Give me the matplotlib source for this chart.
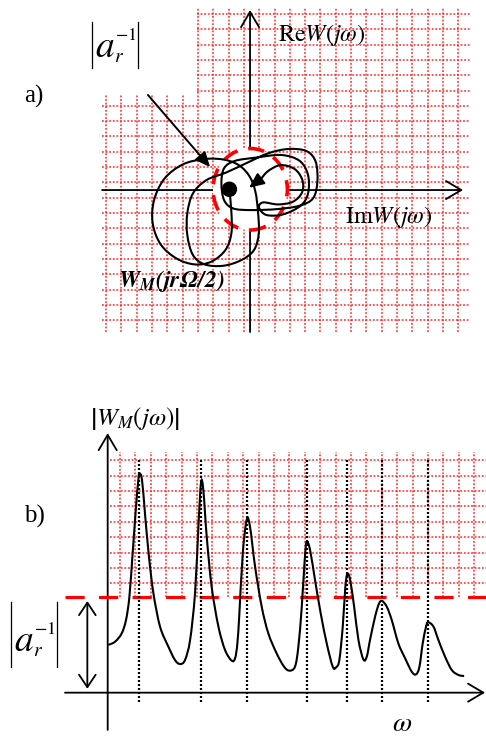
import numpy as np
import matplotlib.pyplot as plt
from matplotlib.path import Path
from matplotlib.patches import PathPatch, Ellipse, Circle
from matplotlib.lines import Line2D

plt.rcParams["mathtext.fontset"] = "stix"
plt.rcParams["font.family"] = ["Liberation Serif", "DejaVu Serif"]

# ------------------------------------------------------------------
# Data
# ------------------------------------------------------------------

# a) hodograph of W_M(jw), in grid cells; horizontal = Im, vertical = Re
NYQ_IM = [
    -1.35, -1.22, -1.22, -1.61, -2.53, -3.62, -4.81, -5.84, -6.36, -6.27,
    -5.58, -4.38, -2.96, -1.66, -0.68, -0.02, 0.35, 0.52, 0.57, 0.26,
    -0.57, -1.76, -2.96, -3.73, -4.10, -4.10, -3.73, -2.85, -1.55, -0.13,
    1.18, 2.48, 3.68, 4.29, 4.40, 4.12, 3.25, 1.83, 0.09, -1.11,
    -1.70, -1.87, -1.70, -1.00, 0.31, 2.05, 3.25, 3.79, 3.79, 3.31,
    2.16, 1.07, 0.59, 0.85, 1.83, 2.81, 3.40, 3.42, 2.92, 2.00,
    1.18, 0.74,
]
NYQ_RE = [
    0.00, -1.42, -2.83, -3.92, -4.68, -4.86, -4.47, -3.55, -2.18, -0.65,
    0.76, 1.68, 2.03, 1.98, 1.59, 0.87, -0.11, -1.42, -2.83, -3.92,
    -4.58, -4.95, -4.86, -4.25, -2.94, -1.53, -0.22, 0.65, 1.15, 1.81,
    2.40, 2.68, 2.55, 1.85, 0.54, -0.54, -1.02, -1.24, -1.31, -1.20,
    -0.65, 0.44, 1.42, 1.90, 2.11, 2.29, 1.90, 0.98, -0.22, -1.02,
    -1.59, -1.63, -1.15, -0.81, -0.94, -0.76, -0.15, 0.65, 1.37, 1.63,
    1.24, 0.76,
]
NYQ_END = (-0.07, 0.15)          # where the spiral's arrowhead lands
CRIT_POINT = (-1.35, 0.05)       # black dot
CIRCLE_CENTER = (0.01, 0.05)
CIRCLE_SIZE = (4.86, 5.33)       # width, height of the dashed circle
POINTER_FROM = (-6.67, 6.21)
POINTER_TO = (-2.61, 1.50)

# b) amplitude response |W_M(jw)|
OMEGA = [
    0.04, 0.48, 0.91, 1.19, 1.41, 1.62, 1.84, 1.99, 2.06, 2.23,
    2.42, 2.68, 2.97, 3.40, 3.94, 4.37, 4.70, 5.02, 5.35, 5.67,
    5.89, 6.06, 6.21, 6.43, 6.75, 7.19, 7.62, 8.05, 8.27, 8.42,
    8.55, 8.77, 9.03, 9.24, 9.57, 10.00, 10.43, 10.97, 11.45, 11.80,
    12.16, 12.38, 12.60, 12.79, 12.92, 13.14, 13.46, 13.83, 14.22, 14.61,
    14.83, 15.04, 15.26, 15.43, 15.56, 15.74, 16.00, 16.28, 16.60, 16.82,
    17.03, 17.36, 17.62, 17.82, 18.12, 18.44, 18.87, 19.31, 19.74, 20.02,
    20.24, 20.45, 20.67, 20.80, 21.15, 21.47, 21.90, 22.34, 22.77, 23.14,
]
AMPLITUDE = [
    3.10, 3.31, 3.85, 4.72, 6.23, 9.05, 12.08, 13.81, 14.24, 13.81,
    11.65, 8.83, 6.45, 4.29, 2.99, 2.12, 1.86, 2.12, 3.42, 6.45,
    10.78, 13.64, 13.16, 10.13, 6.88, 4.29, 2.77, 2.08, 2.23, 3.20,
    5.15, 9.05, 11.26, 10.78, 8.18, 5.58, 3.85, 2.55, 1.69, 1.43,
    1.69, 2.99, 5.58, 8.61, 9.81, 9.26, 7.32, 5.15, 3.20, 1.69,
    1.65, 2.12, 4.29, 6.88, 7.71, 7.32, 5.58, 3.42, 2.16, 2.34,
    3.42, 4.94, 5.80, 5.95, 5.58, 4.72, 3.20, 2.23, 1.36, 1.19,
    1.69, 3.20, 4.29, 4.57, 4.29, 3.42, 2.34, 1.47, 1.15, 1.08,
]
PEAK_OMEGA = [2.06, 6.06, 9.03, 12.92, 15.56, 17.82, 20.80]
THRESHOLD = 6.23                 # |a_r^-1|

GRID_RED = "#ff1a1a"
W_PX, H_PX = 486, 737


def smooth_path(xs, ys):
    """Catmull-Rom curve through the given knots, as cubic Bezier segments."""
    pts = np.column_stack([xs, ys]).astype(float)
    n = len(pts)
    verts = [pts[0]]
    codes = [Path.MOVETO]
    for i in range(n - 1):
        p0 = pts[max(i - 1, 0)]
        p1 = pts[i]
        p2 = pts[i + 1]
        p3 = pts[min(i + 2, n - 1)]
        verts += [p1 + (p2 - p0) / 6, p2 - (p3 - p1) / 6, p2]
        codes += [Path.CURVE4] * 3
    return Path(verts, codes)


def axis_arrow(ax, start, tip):
    ax.annotate(
        "", xy=tip, xytext=start,
        arrowprops=dict(arrowstyle="->,head_length=1.1,head_width=0.65",
                        color="black", lw=1.3, mutation_scale=10,
                        shrinkA=0, shrinkB=0),
        zorder=2,
    )


def fig_xy(x, y):
    return x / W_PX, 1 - y / H_PX


def inverse_gain_label(fig, x, y, bar_top, bar_bottom):
    """|a_r^-1| typeset by hand: big 'a', small r and -1, tall thin bars.
    (x, y) is the centre of the letter a, in pixels from the top-left."""
    kw = dict(ha="center", va="center", color="black")
    fig.text(*fig_xy(x, y), r"$a$", fontsize=27, **kw)
    fig.text(*fig_xy(x + 14, y + 9), r"$r$", fontsize=14, **kw)
    fig.text(*fig_xy(x + 21, y - 13), r"$-1$", fontsize=13, **kw)
    for bx in (x - 13, x + 33):
        (x0, y0), (x1, y1) = fig_xy(bx, bar_top), fig_xy(bx, bar_bottom)
        fig.add_artist(Line2D([x0, x1], [y0, y1], color="black", lw=0.9))


fig = plt.figure(figsize=(W_PX / 100, H_PX / 100), dpi=100)
fig.patch.set_facecolor("white")

grid_kw = dict(color=GRID_RED, lw=1.3, linestyle=(0, (1, 1)), alpha=0.8,
               zorder=1)

# ------------------------------------------------------------------
# a) complex plane
# ------------------------------------------------------------------

ax_a = fig.add_axes([0, 1 - 340 / H_PX, 1, 340 / H_PX])
ax_a.set_xlim(-16.34, 15.42)
ax_a.set_ylim(-9.80, 12.42)
ax_a.axis("off")

# L-shaped background grid (upper-left corner left blank for the label)
left_u, notch_u, right_u = -9.67, -3.46, 14.38
bottom_v, notch_v, top_v = -9.28, 6.21, 11.96
for u in np.arange(-9.4, 13.7, 1.0):
    ax_a.vlines(u, bottom_v, notch_v if u < notch_u else top_v, **grid_kw)
for v in np.arange(-8.5, 11.6, 1.0):
    ax_a.hlines(v, notch_u if v > notch_v else left_u, right_u, **grid_kw)

axis_arrow(ax_a, (left_u, 0), (13.92, 0))
axis_arrow(ax_a, (0, bottom_v), (0, 11.76))

ax_a.add_patch(Ellipse(CIRCLE_CENTER, *CIRCLE_SIZE, facecolor="white",
                       edgecolor="none", zorder=3))
ax_a.add_patch(Ellipse(CIRCLE_CENTER, *CIRCLE_SIZE, fill=False,
                       edgecolor="#ff0000", lw=2.6,
                       linestyle=(0, (4.5, 3)), zorder=4))

ax_a.add_patch(PathPatch(smooth_path(NYQ_IM, NYQ_RE), facecolor="none",
                         edgecolor="black", lw=1.5, zorder=5))
ax_a.annotate(
    "", xy=NYQ_END, xytext=(NYQ_IM[-1], NYQ_RE[-1]),
    arrowprops=dict(arrowstyle="-|>,head_length=0.9,head_width=0.4",
                    color="black", lw=1.5, mutation_scale=10,
                    shrinkA=0, shrinkB=0),
    zorder=6,
)
ax_a.add_patch(Circle(CRIT_POINT, 0.46, color="black", zorder=6))

ax_a.annotate(
    "", xy=POINTER_TO, xytext=POINTER_FROM,
    arrowprops=dict(arrowstyle="-|>,head_length=0.9,head_width=0.4",
                    color="black", lw=1.4, mutation_scale=10,
                    shrinkA=0, shrinkB=0),
    zorder=6,
)

# ------------------------------------------------------------------
# b) amplitude response
# ------------------------------------------------------------------

ax_b = fig.add_axes([0, 0, 1, 337 / H_PX])
ax_b.set_xlim(-6.99, 24.56)
ax_b.set_ylim(-2.88, 19.01)
ax_b.axis("off")

for w in np.arange(0.8, 23.9, 1.0):
    ax_b.vlines(w, THRESHOLD, 15.65, **grid_kw)
for a in np.arange(7.1, 15.2, 1.0):
    ax_b.hlines(a, 0.15, 24.6, **grid_kw)

ax_b.hlines(THRESHOLD, -2.77, 24.6, color="#ff0000", lw=2.3,
            linestyle=(0, (6, 4.5)), zorder=3)

ax_b.vlines(PEAK_OMEGA, -0.58, 15.11, color="black", lw=1.6,
            linestyle=(0, (0.9, 0.9)), zorder=4)

axis_arrow(ax_b, (-2.77, 0), (24.5, 0))
axis_arrow(ax_b, (0, -2.42), (0, 16.86))

ax_b.add_patch(PathPatch(smooth_path(OMEGA, AMPLITUDE), facecolor="none",
                         edgecolor="black", lw=1.5, zorder=5))

ax_b.annotate(
    "", xy=(-1.32, 0.25), xytext=(-1.32, THRESHOLD - 0.28),
    arrowprops=dict(arrowstyle="<->,head_length=0.9,head_width=0.6",
                    color="black", lw=1.3, mutation_scale=10,
                    shrinkA=0, shrinkB=0),
    zorder=4,
)

# ------------------------------------------------------------------
# Labels
# ------------------------------------------------------------------

text_kw = dict(ha="center", va="center", color="black")
fig.text(*fig_xy(34, 96), "a)", fontsize=18, **text_kw)
fig.text(*fig_xy(34, 516), "b)", fontsize=18, **text_kw)
inverse_gain_label(fig, 105, 48, 22, 68)
fig.text(*fig_xy(322, 35), r"$\mathrm{Re}W(j\omega)$", fontsize=17.5,
         **text_kw)
fig.text(*fig_xy(389, 217), r"$\mathrm{Im}W(j\omega)$", fontsize=17.5,
         **text_kw)
fig.text(*fig_xy(171, 281),
         r"$\mathbfit{W}_{\mathbfit{M}}\mathbfit{(jr\Omega/2)}$",
         fontsize=17, **text_kw)
fig.text(*fig_xy(135, 419), r"$\left|W_M(j\omega)\right|$", fontsize=18,
         **text_kw)
inverse_gain_label(fig, 24, 642, 602, 667)
fig.text(*fig_xy(402, 731), r"$\omega$", fontsize=20, ha="center",
         va="baseline", color="black")

fig.savefig("out.png", dpi=100, facecolor="white")
